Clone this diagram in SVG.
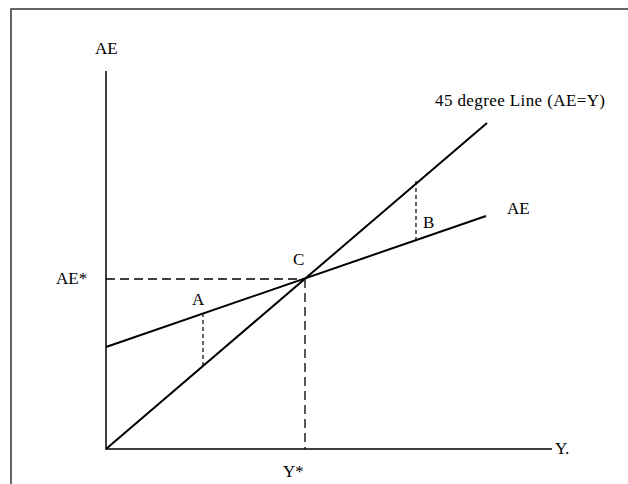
<svg xmlns="http://www.w3.org/2000/svg" width="628" height="484" viewBox="0 0 628 484">
<style>
text{font-family:"Liberation Serif","Times New Roman",serif;font-size:17px;fill:#000}
.ax{stroke:#000;stroke-width:1.5;fill:none}
.ln{stroke:#000;stroke-width:2;fill:none}
.d1{stroke:#000;stroke-width:1.3;stroke-dasharray:9 5;fill:none}
.d2{stroke:#000;stroke-width:1.2;stroke-dasharray:4 3;fill:none}
</style>
<rect width="628" height="484" fill="#fff"/>
<g id="frame"><path d="M11 484V9H628" stroke="#333" stroke-width="1.5" fill="none"/></g>
<g id="connectors">
<path class="ax" d="M106 71V449H552"/>
<path class="d1" d="M106 279H304M305 279V449"/>
<path class="ln" d="M106 449L487 123"/>
<path class="ln" d="M106 347L486 216"/>
<path class="d2" d="M203 313V366"/>
<path class="d2" d="M416 181V240"/>
</g>
<g id="labels">
<text x="95" y="54">AE</text>
<text x="56" y="284">AE*</text>
<text x="192" y="305">A</text>
<text x="293" y="265">C</text>
<text x="423" y="228">B</text>
<text x="507" y="214">AE</text>
<text x="435" y="106" textLength="170">45 degree Line (AE=Y)</text>
<text x="555" y="454">Y.</text>
<text x="283" y="477">Y*</text>
</g>
</svg>
